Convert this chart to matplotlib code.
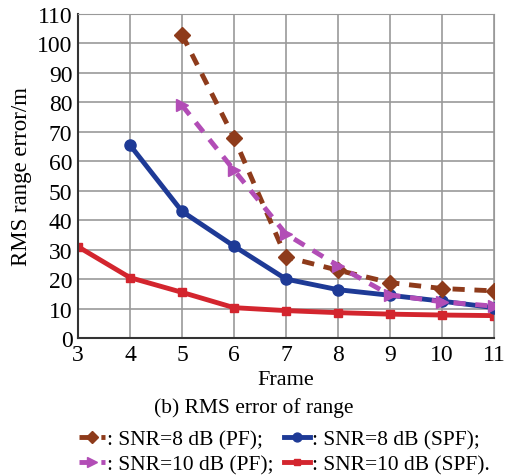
import matplotlib
matplotlib.use("Agg")
import matplotlib.pyplot as plt

frames_pf = [5, 6, 7, 8, 9, 10, 11]
pf8 = [103, 68, 27.5, 23, 18.8, 16.8, 16]
pf10 = [79, 57, 35.3, 24.5, 14.6, 12.3, 10.8]
frames_spf8 = [4, 5, 6, 7, 8, 9, 10, 11]
spf8 = [65.5, 43, 31.2, 20, 16.4, 14.5, 12.5, 10.3]
frames_spf10 = [3, 4, 5, 6, 7, 8, 9, 10, 11]
spf10 = [31, 20.5, 15.5, 10.3, 9.3, 8.6, 8.1, 7.8, 7.6]
labels = [": SNR=8 dB (PF);", ": SNR=8 dB (SPF);", ": SNR=10 dB (PF);", ": SNR=10 dB (SPF)."]

plt.rcParams['font.family'] = ['Liberation Serif', 'DejaVu Serif']
fig = plt.figure(figsize=(5.08, 4.77), dpi=100)
ax = fig.add_axes([78/508, 1-339/477, (494-78)/508, (339-15)/477])

c_brown = '#8E3B1B'
c_blue = '#1E3A96'
c_purple = '#B24DB6'
c_red = '#D3252E'

l1, = ax.plot(frames_pf, pf8, color=c_brown, lw=3.5, ls=(0, (2.5, 2)), marker='D', ms=8, zorder=4)
l2, = ax.plot(frames_spf8, spf8, color=c_blue, lw=3.5, marker='o', ms=8, zorder=3)
l3, = ax.plot(frames_pf, pf10, color=c_purple, lw=3.5, ls=(0, (2.5, 2)), marker='>', ms=9, zorder=5)
l4, = ax.plot(frames_spf10, spf10, color=c_red, lw=3.5, marker='s', ms=6, zorder=2)

ax.set_xlim(3, 11)
ax.set_ylim(0, 110)
ax.set_xticks(range(3, 12))
ax.set_yticks(range(0, 111, 10))
ax.grid(True, color='#999999', lw=1.2)
ax.tick_params(labelsize=17, length=0, pad=4)
for s in ['top', 'right']:
    ax.spines[s].set_color('#999999')
for s in ['left', 'bottom']:
    ax.spines[s].set_color('#333333')
    ax.spines[s].set_linewidth(1.5)
ax.set_xlabel('Frame', fontsize=16, labelpad=4)
ax.set_ylabel('RMS range error/m', fontsize=16.5, labelpad=4)

fig.text(0.5, 1-408/477, '(b) RMS error of range', ha='center', va='center', fontsize=15.5)
handles = [l1, l3, l2, l4]
labs = [labels[0], labels[2], labels[1], labels[3]]
leg = fig.legend(handles, labs, loc='center', bbox_to_anchor=(0.56, 1-453/477),
                 ncol=2, frameon=False, fontsize=15.5, handlelength=1.2, handletextpad=0.1,
                 columnspacing=0.5, labelspacing=0.2, markerscale=0.8, borderpad=0)
fig.savefig('out.png', dpi=100)
